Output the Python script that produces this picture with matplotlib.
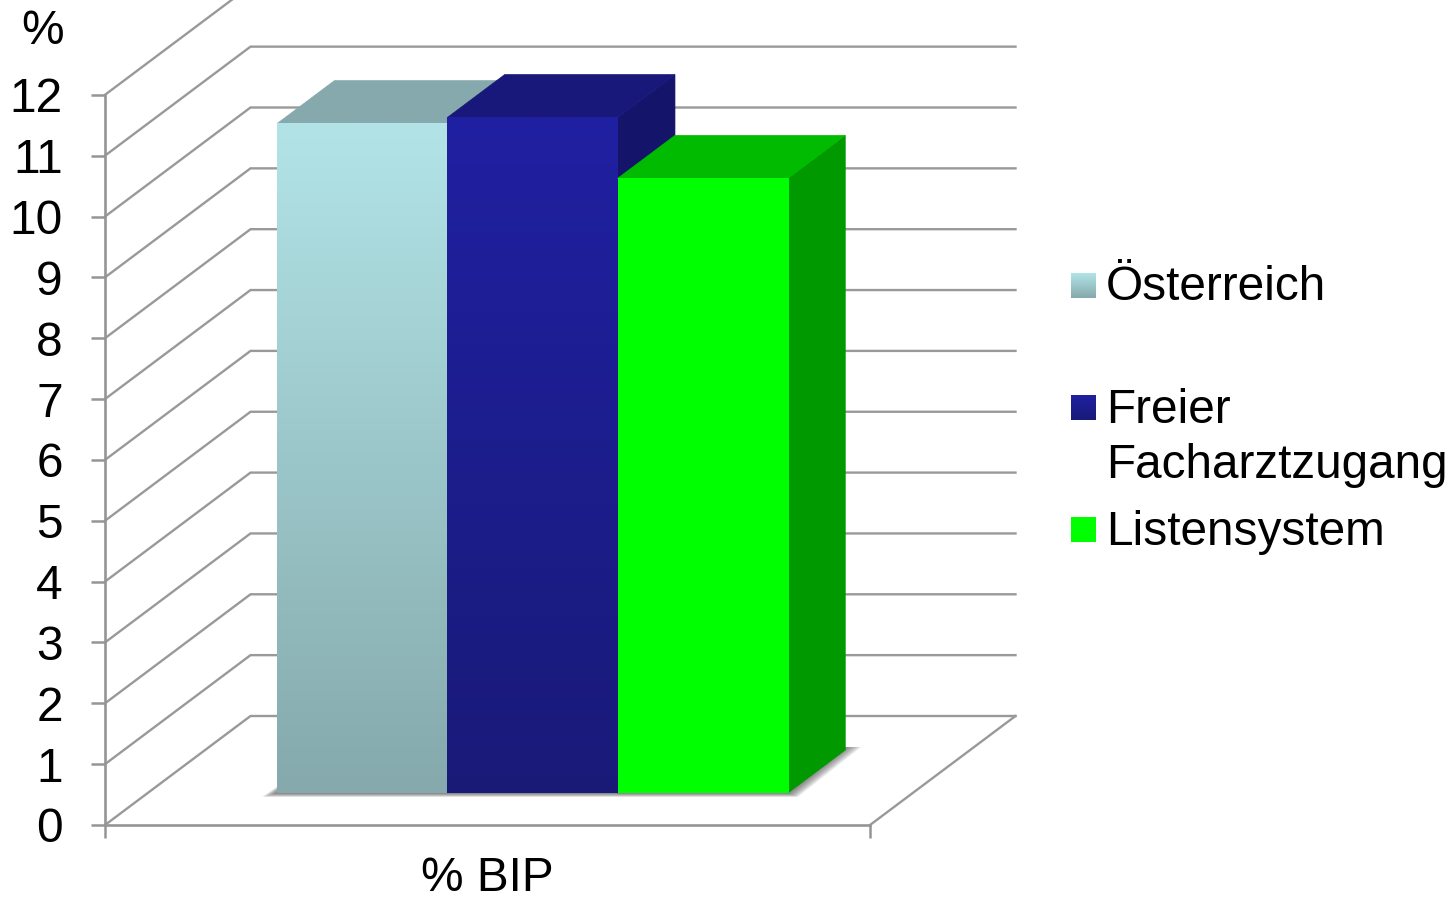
import numpy as np
import matplotlib
matplotlib.use("Agg")
import matplotlib.pyplot as plt
from matplotlib.colors import LinearSegmentedColormap
from matplotlib.patches import Polygon

plt.rcParams["font.family"] = ["Liberation Sans", "DejaVu Sans"]

# Data
series = ["Österreich", "Freier\nFacharztzugang", "Listensystem"]
values = [11.0, 11.1, 10.1]
category = "% BIP"
y_ticks = list(range(13))

# Face colours: gradient top, gradient bottom, top face, side face
grad_top = ["#b2e4e7", "#2020a2", "#00ff00"]
grad_bottom = ["#85a9ac", "#191a78", "#00ff00"]
top_faces = ["#85a9ac", "#17187a", "#00bb00"]
side_faces = ["#75989b", "#14156a", "#009900"]

# Oblique projection of the 3D box
UNIT_Y = 60.85            # pixels per value unit
DEPTH_X = 145.5 / 765     # axis units per full floor depth
DEPTH_Y = 109 / UNIT_Y    # value units per full floor depth
BAR_NEAR = 0.2936         # floor depth of the bar fronts
BAR_FAR = 0.688           # floor depth of the bar backs
BAR_START = 0.1690
BAR_WIDTH = 0.2226
GRID = "#999999"
AXIS = "#959595"
FONT_SIZE = 34.4

W, H = 1452, 900
fig = plt.figure(figsize=(W / 100, H / 100), dpi=100, facecolor="white")
ax = fig.add_axes([0, 0, 1, 1])
ax.patch.set_visible(False)
ax.set_xlim(-105.0 / 765, (W - 105.0) / 765)
ax.set_ylim(-(H - 825.0) / UNIT_Y, 825.0 / UNIT_Y)


def gradient(c0, c1, extent, transform=None, zorder=3):
    cmap = LinearSegmentedColormap.from_list("face", [c0, c1])
    kw = {} if transform is None else {"transform": transform}
    ax.imshow(np.linspace(0, 1, 256)[:, None], cmap=cmap, extent=extent,
              aspect="auto", origin="upper", zorder=zorder,
              interpolation="bilinear", **kw)


# Back wall gridlines with their diagonal run across the side wall
for v in y_ticks:
    ax.plot([0, DEPTH_X, 1 + DEPTH_X], [v, v + DEPTH_Y, v + DEPTH_Y],
            color=GRID, lw=1.7, zorder=1, solid_joinstyle="miter")
# Right edge of the floor
ax.plot([1, 1 + DEPTH_X], [0, DEPTH_Y], color=GRID, lw=1.7, zorder=1)

# Soft shadow under the bars
px, py = 1 / 765, 1 / UNIT_Y
x_near = BAR_START + BAR_NEAR * DEPTH_X
x_end = x_near + 3 * BAR_WIDTH
y_near = BAR_NEAR * DEPTH_Y
y_far = BAR_FAR * DEPTH_Y
span_x = (BAR_FAR - BAR_NEAR) * DEPTH_X
for grow in np.linspace(1, 0.1, 10):
    ax.add_patch(Polygon(
        [(x_near - 15 * grow * px, y_near - 4 * grow * py),
         (x_end + 10 * grow * px, y_near - 4 * grow * py),
         (x_end + span_x + 16 * grow * px, y_far + 3 * py),
         (x_near + span_x, y_far + 3 * py)],
        closed=True, facecolor="#404040", edgecolor="none", alpha=0.09, zorder=2))

# Bars: front gradient, then top and side faces
for i, v in enumerate(values):
    x0 = x_near + i * BAR_WIDTH
    x1 = x0 + BAR_WIDTH
    top = y_near + v
    sx, sy = span_x, y_far - y_near
    ax.fill([x1, x1 + sx, x1 + sx, x1], [y_near, y_near + sy, top + sy, top],
            facecolor=side_faces[i], edgecolor=side_faces[i], lw=0.5, zorder=3 + i)
    ax.fill([x0, x1, x1 + sx, x0 + sx], [top, top, top + sy, top + sy],
            facecolor=top_faces[i], edgecolor=top_faces[i], lw=0.5, zorder=3 + i)
    gradient(grad_top[i], grad_bottom[i], (x0, x1, y_near, top), zorder=3 + i)

# Axes
for s in ("top", "right"):
    ax.spines[s].set_visible(False)
ax.spines["left"].set_position(("data", 0))
ax.spines["bottom"].set_position(("data", 0))
ax.spines["left"].set_bounds(0, 12)
ax.spines["bottom"].set_bounds(0, 1)
for s in ("left", "bottom"):
    ax.spines[s].set_color(AXIS)
    ax.spines[s].set_linewidth(1.9)
    ax.spines[s].set_zorder(6)
ax.set_yticks(y_ticks)
ax.set_yticklabels([str(t) for t in y_ticks])
ax.set_xticks([0, 1])
ax.set_xticklabels(["", ""])
ax.set_xticks([0.5], minor=True)
ax.set_xticklabels([category], minor=True)
ax.tick_params(axis="y", length=10, width=1.8, color=AXIS, pad=20.5,
               labelsize=FONT_SIZE, labelcolor="black")
ax.tick_params(axis="x", which="major", length=9.4, width=1.8, color=AXIS)
ax.tick_params(axis="x", which="minor", length=0, pad=22,
               labelsize=FONT_SIZE, labelcolor="black")
ax.text(-41 / 765, 12.84, "%", fontsize=FONT_SIZE, color="black", ha="right", va="baseline")

# Legend, placed in figure pixels
def fx(p):
    return p / W


def fy(p):
    return 1 - p / H


swatch_tops = [273, 395, 517]
first_baselines = [300, 423, 545]
line_step = 55
for i, name in enumerate(series):
    t = swatch_tops[i]
    gradient(grad_top[i], grad_bottom[i],
             (fx(1071), fx(1096), fy(t + 25), fy(t)), transform=ax.transAxes, zorder=3)
    for j, line in enumerate(name.split("\n")):
        ax.text(fx(1106), fy(first_baselines[i] + j * line_step), line,
                transform=ax.transAxes, fontsize=FONT_SIZE, color="black",
                ha="left", va="baseline")

fig.savefig("out.png", dpi=100)
